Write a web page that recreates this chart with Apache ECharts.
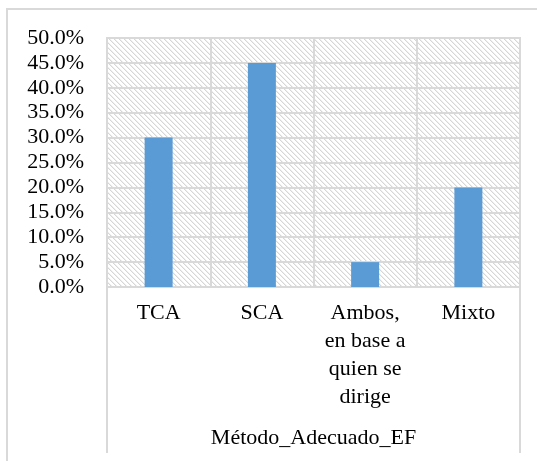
<!DOCTYPE html>
<html>
<head>
<meta charset="utf-8">
<script src="https://cdn.jsdelivr.net/npm/echarts@6/dist/echarts.min.js"></script>
<style>
html,body{margin:0;padding:0;background:#fff;}
#chart{width:537px;height:461px;}
</style>
</head>
<body>
<div id="chart"></div>
<script>
var categories = ['TCA', 'SCA', 'Ambos,\nen base a\nquien se\ndirige', 'Mixto'];
var values = [0.30, 0.45, 0.05, 0.20];
var axisTitle = 'Método_Adecuado_EF';

var FONT = "'Liberation Serif', 'Times New Roman', serif";
var LINE = '#d9d9d9';

// diagonal hatch for the plot background
function hatch(){
    var c = document.createElement('canvas');
    c.width = 5; c.height = 5;
    var ctx = c.getContext('2d');
    ctx.fillStyle = '#fff';
    ctx.fillRect(0, 0, 5, 5);
    ctx.fillStyle = '#d6d6d6';
    for (var i = 0; i < 5; i++) {
        ctx.fillRect(i, i, 1, 1);
    }
    ctx.fillStyle = '#efefef';
    for (var i = 0; i < 5; i++) {
        ctx.fillRect((i + 1) % 5, i, 1, 1);
    }
    return c;
}

var chart = echarts.init(document.getElementById('chart'));
var option = {
    animation: false,
    grid: {
        left: 107, top: 38, right: 17, bottom: 174,
        show: true,
        backgroundColor: { image: hatch(), repeat: 'repeat' },
        borderColor: LINE,
        borderWidth: 2
    },
    graphic: [
        { type: 'rect', shape: { x: 7, y: 9, width: 540, height: 470 },
          style: { fill: 'none', stroke: LINE, lineWidth: 2 }, silent: true, z: -1 },
        { type: 'line', shape: { x1: 107, y1: 287, x2: 107, y2: 453 },
          style: { stroke: LINE, lineWidth: 2 }, silent: true },
        { type: 'line', shape: { x1: 520, y1: 287, x2: 520, y2: 453 },
          style: { stroke: LINE, lineWidth: 2 }, silent: true }
    ],
    xAxis: {
        type: 'category',
        data: categories,
        name: axisTitle,
        nameLocation: 'middle',
        nameGap: 140,
        nameTextStyle: { fontFamily: FONT, fontSize: 22, color: '#000' },
        axisLine: { show: true, lineStyle: { color: LINE, width: 2 } },
        axisTick: { show: false },
        axisLabel: {
            interval: 0, margin: 12,
            fontFamily: FONT, fontSize: 22, lineHeight: 28, color: '#000'
        },
        splitLine: { show: true, interval: 0, lineStyle: { color: LINE, width: 2 } }
    },
    yAxis: {
        type: 'value',
        min: 0, max: 0.5, interval: 0.05,
        axisLine: { show: false },
        axisTick: { show: false },
        axisLabel: {
            margin: 23,
            fontFamily: FONT, fontSize: 22, color: '#000',
            formatter: function(v){ return (v * 100).toFixed(1) + '%'; }
        },
        splitLine: { show: true, lineStyle: { color: LINE, width: 2 } }
    },
    series: [{
        type: 'bar',
        data: values,
        barWidth: 28,
        itemStyle: { color: '#5B9BD5' }
    }]
};
chart.setOption(option);
</script>
</body>
</html>
